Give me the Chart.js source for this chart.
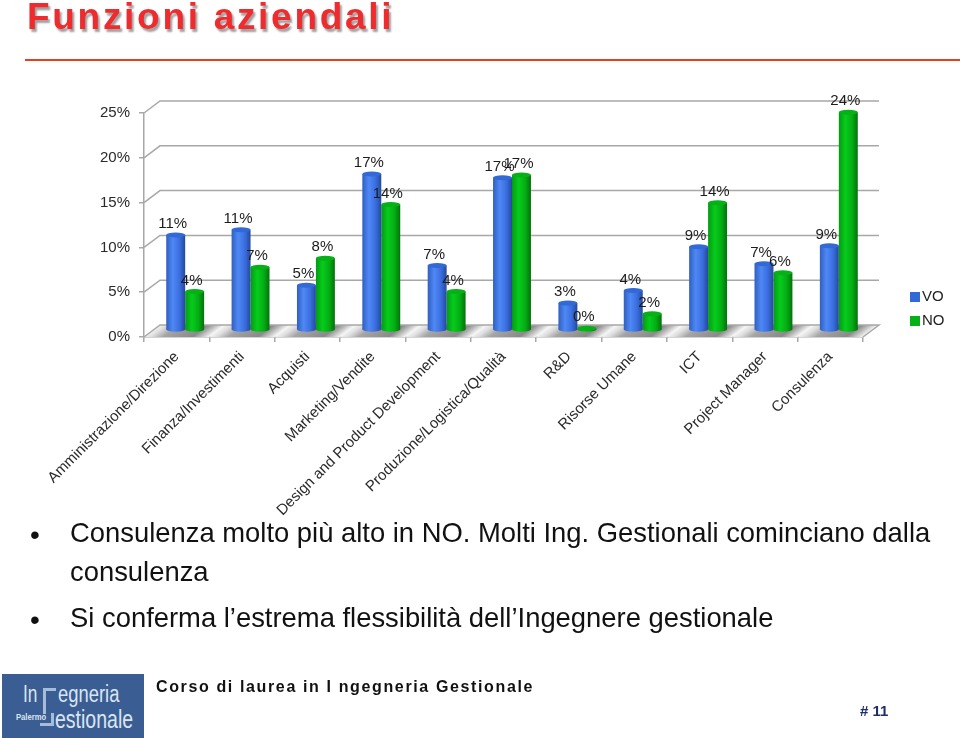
<!DOCTYPE html>
<html>
<head>
<meta charset="utf-8">
<title>Funzioni aziendali</title>
<script src="https://cdn.jsdelivr.net/npm/chart.js@4/dist/chart.umd.min.js"></script>
<style>
  html, body { margin: 0; padding: 0; background: #fff; }
  body { position: relative; width: 960px; height: 738px; overflow: hidden; font-family: "Liberation Sans", Arial, sans-serif; color: #111; }
  #myChart { position: absolute; left: 0; top: 0; }
  .abs { position: absolute; white-space: nowrap; }
  #titolo { left: 27px; top: -4px; font-size: 37px; font-weight: bold; color: #ef2b2d; letter-spacing: 2.7px; text-shadow: 2px 3px 2px #a0a0a0; }
  #riga { left: 25px; top: 59px; width: 935px; height: 2px; background: #e8401f; }
  .testo { font-size: 27.4px; left: 70px; }
  .punto { font-size: 28px; left: 30px; }
  #corso { left: 156px; top: 678px; font-size: 16px; font-weight: bold; letter-spacing: 1.63px; color: #111; }
  #pagina { left: 860px; top: 702px; font-size: 15px; font-weight: bold; color: #1c2f6b; }
  #logo { left: 2px; top: 674px; width: 142px; height: 64px; background: #3a5e94; color: #dbe5f1; }
  #logo div { position: absolute; white-space: nowrap; transform-origin: left top; }
  #logo .g { border: 3px solid #a6bdd9; box-sizing: border-box; }
</style>
</head>
<body>
<canvas id="myChart" width="960" height="738"></canvas>

<div class="abs" id="titolo">Funzioni aziendali</div>
<div class="abs" id="riga"></div>

<div class="abs punto" style="top:519px">•</div>
<div class="abs testo" style="top:517px">Consulenza molto più alto in NO. Molti Ing. Gestionali cominciano dalla</div>
<div class="abs testo" style="top:556px">consulenza</div>
<div class="abs punto" style="top:604px">•</div>
<div class="abs testo" style="top:602px">Si conferma l’estrema flessibilità dell’Ingegnere gestionale</div>

<div class="abs" id="logo">
  <div style="left:21px;top:6px;font-size:24px;transform:scaleX(.72)">In</div>
  <div style="left:56px;top:7px;font-size:23px;transform:scaleX(.8)">egneria</div>
  <div class="g" style="left:41px;top:14px;width:13px;height:26px;border-right:0;border-bottom:0"></div>
  <div class="g" style="left:38px;top:39px;width:14px;height:13px;border-left:0;border-top:0"></div>
  <div style="left:14px;top:38px;font-size:9px;font-weight:bold;transform:scaleX(.85)">Palermo</div>
  <div style="left:53px;top:31px;font-size:25px;transform:scaleX(.78)">estionale</div>
</div>
<div class="abs" id="corso">Corso di laurea in I ngegneria Gestionale</div>
<div class="abs" id="pagina"># 11</div>

<script>
// dati
let categorie = ['Amministrazione/Direzione', 'Finanza/Investimenti', 'Acquisti', 'Marketing/Vendite',
    'Design and Product Development', 'Produzione/Logistica/Qualità', 'R&D', 'Risorse Umane', 'ICT',
    'Project Manager', 'Consulenza'];
let valoriVO = [10.6, 11.2, 5, 17.4, 7.2, 17, 3, 4.4, 9.3, 7.4, 9.4];
let valoriNO = [4.3, 7, 8, 14, 4.3, 17.3, 0.2, 1.8, 14.2, 6.4, 24.3];
let tickY = [0, 5, 10, 15, 20, 25];

const LARGHEZZA_BARRA = 19;
const PROF_X = 16, PROF_Y = -12;   // profondita' del pavimento
const SPOST_X = 8.5, SPOST_Y = -7; // barre a meta' del pavimento

// gradiente orizzontale del cilindro
function cilindro(colori, lato) {
    return function (context) {
        if (context.dataIndex === undefined) return colori[2];
        let c = context.chart.scales.x.getPixelForTick(context.dataIndex);
        let x0 = lato < 0 ? c - LARGHEZZA_BARRA : c;
        let g = context.chart.ctx.createLinearGradient(x0, 0, x0 + LARGHEZZA_BARRA, 0);
        g.addColorStop(0, colori[0]);
        g.addColorStop(0.35, colori[1]);
        g.addColorStop(0.7, colori[2]);
        g.addColorStop(1, colori[3]);
        return g;
    };
}

const pareti = {
    id: 'pareti',
    beforeDatasetsDraw(chart) {
        let ctx = chart.ctx, y = chart.scales.y, a = chart.chartArea;
        ctx.save();
        // pavimento a strisce diagonali
        let base = y.getPixelForValue(0);
        let passo = (a.right - a.left) / categorie.length;
        categorie.forEach(function (c, i) {
            let x0 = a.left + i * passo;
            let sx = x0 + SPOST_X, sy = base + SPOST_Y;
            let k = passo * 12 / (12 * 12 + 16 * 16);
            let g = ctx.createLinearGradient(sx, sy, sx + k * 12, sy + k * 16);
            g.addColorStop(0, '#f4f4f4');
            g.addColorStop(0.12, '#dedede');
            g.addColorStop(0.3, '#a5a5a5');
            g.addColorStop(0.75, '#8a8a8a');
            g.addColorStop(0.88, '#c0c0c0');
            g.addColorStop(1, '#f4f4f4');
            ctx.fillStyle = g;
            ctx.beginPath();
            ctx.moveTo(x0, base);
            ctx.lineTo(x0 + passo, base);
            ctx.lineTo(x0 + passo + PROF_X, base + PROF_Y);
            ctx.lineTo(x0 + PROF_X, base + PROF_Y);
            ctx.closePath();
            ctx.fill();
        });
        // griglia sulla parete di fondo
        ctx.strokeStyle = '#a8a8a8';
        ctx.lineWidth = 1.5;
        tickY.forEach(function (v) {
            let py = y.getPixelForValue(v);
            ctx.beginPath();
            ctx.moveTo(a.left, py);
            ctx.lineTo(a.left + PROF_X, py + PROF_Y);
            ctx.lineTo(a.right + PROF_X, py + PROF_Y);
            if (v === 0) ctx.lineTo(a.right, py);
            ctx.stroke();
        });
        ctx.restore();
        // le barre stanno a meta' del pavimento
        ctx.save();
        ctx.translate(SPOST_X, SPOST_Y);
    },
    afterDatasetsDraw(chart) {
        let ctx = chart.ctx;
        chart.data.datasets.forEach(function (ds, n) {
            chart.getDatasetMeta(n).data.forEach(function (el) {
                ctx.fillStyle = el.options.backgroundColor;
                ctx.beginPath();
                ctx.ellipse(el.x, el.base, LARGHEZZA_BARRA / 2, 2.5, 0, 0, Math.PI * 2);
                ctx.fill();
                ctx.fillStyle = ds.tappo;
                ctx.beginPath();
                ctx.ellipse(el.x, el.y, LARGHEZZA_BARRA / 2, 2.5, 0, 0, Math.PI * 2);
                ctx.fill();
            });
        });
        ctx.restore();
        // etichette dei valori
        ctx.save();
        ctx.font = '15px "Liberation Sans"';
        ctx.fillStyle = '#1c1c1c';
        ctx.textAlign = 'center';
        ctx.textBaseline = 'middle';
        chart.data.datasets.forEach(function (ds, n) {
            chart.getDatasetMeta(n).data.forEach(function (el, i) {
                ctx.fillText(Math.round(ds.data[i]) + '%', el.x + SPOST_X - 3, el.y + SPOST_Y - 11);
            });
        });
        ctx.restore();
    },
    afterDraw(chart) {
        // legenda
        let ctx = chart.ctx;
        ctx.save();
        ctx.font = '15px "Liberation Sans"';
        ctx.textBaseline = 'middle';
        chart.data.datasets.forEach(function (ds, n) {
            let py = 297 + n * 24;
            ctx.fillStyle = ds.tappo;
            ctx.fillRect(910, py - 5, 10, 10);
            ctx.fillStyle = '#222';
            ctx.fillText(ds.label, 922, py);
        });
        ctx.restore();
    }
};

new Chart(document.getElementById('myChart').getContext('2d'), {
    type: 'bar',
    data: {
        labels: categorie,
        datasets: [{
            label: 'VO',
            data: valoriVO,
            backgroundColor: cilindro(['#2f5fc0', '#4f88f5', '#3a6ee0', '#234a9a'], -1),
            tappo: '#3169d6'
        }, {
            label: 'NO',
            data: valoriNO,
            backgroundColor: cilindro(['#049a12', '#06cc1c', '#04ad14', '#04700c'], 1),
            tappo: '#05b117'
        }]
    },
    plugins: [pareti],
    options: {
        responsive: false,
        animation: false,
        layout: { padding: { left: 0, top: 113, right: 97, bottom: 0 } },
        datasets: { bar: { categoryPercentage: 0.58, barPercentage: 1 } },
        plugins: {
            title: { display: false },
            tooltip: { enabled: false },
            legend: { display: false }
        },
        scales: {
            x: {
                afterFit: function (s) { s.height = 401; },
                grid: { drawOnChartArea: false, tickLength: 5, color: '#a8a8a8', lineWidth: 1.5 },
                border: { color: '#a8a8a8', width: 1.5 },
                ticks: {
                    autoSkip: false, minRotation: 45, maxRotation: 45, padding: 6, color: '#2a2a2a',
                    font: { family: 'Liberation Sans', size: 15 }
                }
            },
            y: {
                min: 0,
                max: 25,
                afterFit: function (s) { s.width = 144; },
                grid: { drawOnChartArea: false, tickLength: 5, color: '#a8a8a8', lineWidth: 1.5 },
                border: { color: '#a8a8a8', width: 1.5 },
                afterBuildTicks: function (s) { s.ticks = tickY.map(function (v) { return { value: v }; }); },
                ticks: {
                    padding: 9, color: '#2a2a2a',
                    font: { family: 'Liberation Sans', size: 15 },
                    callback: function (v) { return v + '%'; }
                }
            }
        }
    }
});
</script>
</body>
</html>
